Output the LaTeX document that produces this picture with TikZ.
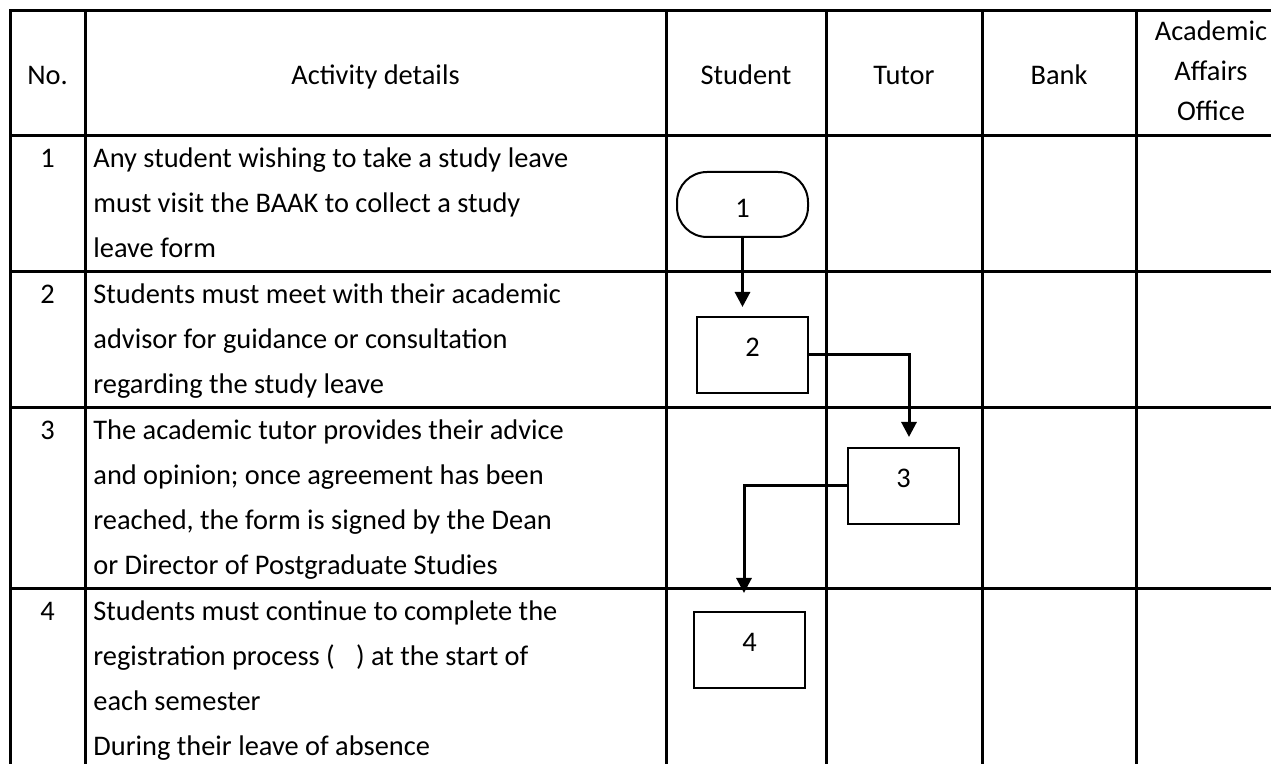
\documentclass[tikz,border=0pt]{standalone}
\usepackage{fontspec}
\setmainfont{Carlito}
\usepackage{tikz}
\usetikzlibrary{arrows.meta,positioning,calc}

\begin{document}
\begin{tikzpicture}[x=0.5pt, y=-0.5pt, >={Triangle[length=7.5pt,width=7.5pt]},
  grid/.style={line width=1.5pt, line cap=rect},
  head/.style={anchor=base, align=center, inner sep=0pt, font=\fontsize{14.2}{20}\selectfont},
  num/.style={anchor=base, inner sep=0pt, font=\fontsize{14.2}{22.5}\selectfont},
  % base of a multi-line cell is its last line
  cell/.style={anchor=base west, inner sep=0pt, align=left,
    font=\fontsize{14.2}{22.5}\selectfont},
  stepbox/.style={draw, line width=1pt, minimum width=55.5pt, minimum height=38pt,
    inner sep=0pt, text depth=8pt, font=\fontsize{14.2}{16}\selectfont},
  term/.style={draw, line width=1pt, rounded corners=15pt, minimum width=65.5pt,
    minimum height=32.5pt, inner sep=0pt, text height=13pt, font=\fontsize{14.2}{16}\selectfont},
  flow/.style={->, line width=1.5pt}]
  \useasboundingbox (0,0) rectangle (1271,764);

  % table rules
  \draw[grid] (10,11) -- (1271,11) (10,136) -- (1271,136) (10,272) -- (1271,272)
    (10,408) -- (1271,408) (10,589) -- (1271,589);
  \draw[grid] (10,11) -- (10,764) (85,11) -- (85,764) (666,11) -- (666,764)
    (826,11) -- (826,764) (982,11) -- (982,764) (1136,11) -- (1136,764);

  % header
  \node[head] (hno) at (47.5,85) {No.};
  \node[head] (hact) at (375.5,85) {Activity details};
  \node[head] (hstu) at (746,85) {Student};
  \node[head] (htut) at (904,85) {Tutor};
  \node[head] (hbank) at (1059,85) {Bank};
  \node[head, anchor=center] (hbaa) at (1211,71) {Academic\\Affairs\\Office};

  % rows
  \node[num] (n1) at (47.5,168) {1};
  \node[cell] (t1) at (93,258) {Any student wishing to take a study leave\\
    must visit the BAAK to collect a study\\leave form};
  \node[num] (n2) at (47.5,304) {2};
  \node[cell] (t2) at (93,394) {Students must meet with their academic\\
    advisor for guidance or consultation\\regarding the study leave};
  \node[num] (n3) at (47.5,440) {3};
  \node[cell] (t3) at (93,575) {The academic tutor provides their advice\\
    and opinion; once agreement has been\\reached, the form is signed by the Dean\\
    or Director of Postgraduate Studies};
  \node[num] (n4) at (47.5,621) {4};
  \node[cell] (t4) at (93,756) {Students must continue to complete the\\
    registration process (\hspace{0.75em}) at the start of\\each semester\\
    During their leave of absence};

  % flow
  \node[term] (s1) at (742.5,204.5) {1};
  \node[stepbox] (s2) at (752.5,355) {2};
  \node[stepbox] (s3) at (903.5,486) {3};
  \node[stepbox] (s4) at (749.5,650) {4};

  \draw[flow, shorten >=4.5pt] (s1.south) -- (s1.south |- s2.north);
  \draw[flow, shorten >=5pt] (s2.east) -| ([xshift=2.75pt]s3.north);
  \draw[flow, shorten >=9pt] (s3.west) -| ([xshift=-2.75pt]s4.north);
\end{tikzpicture}
\end{document}
